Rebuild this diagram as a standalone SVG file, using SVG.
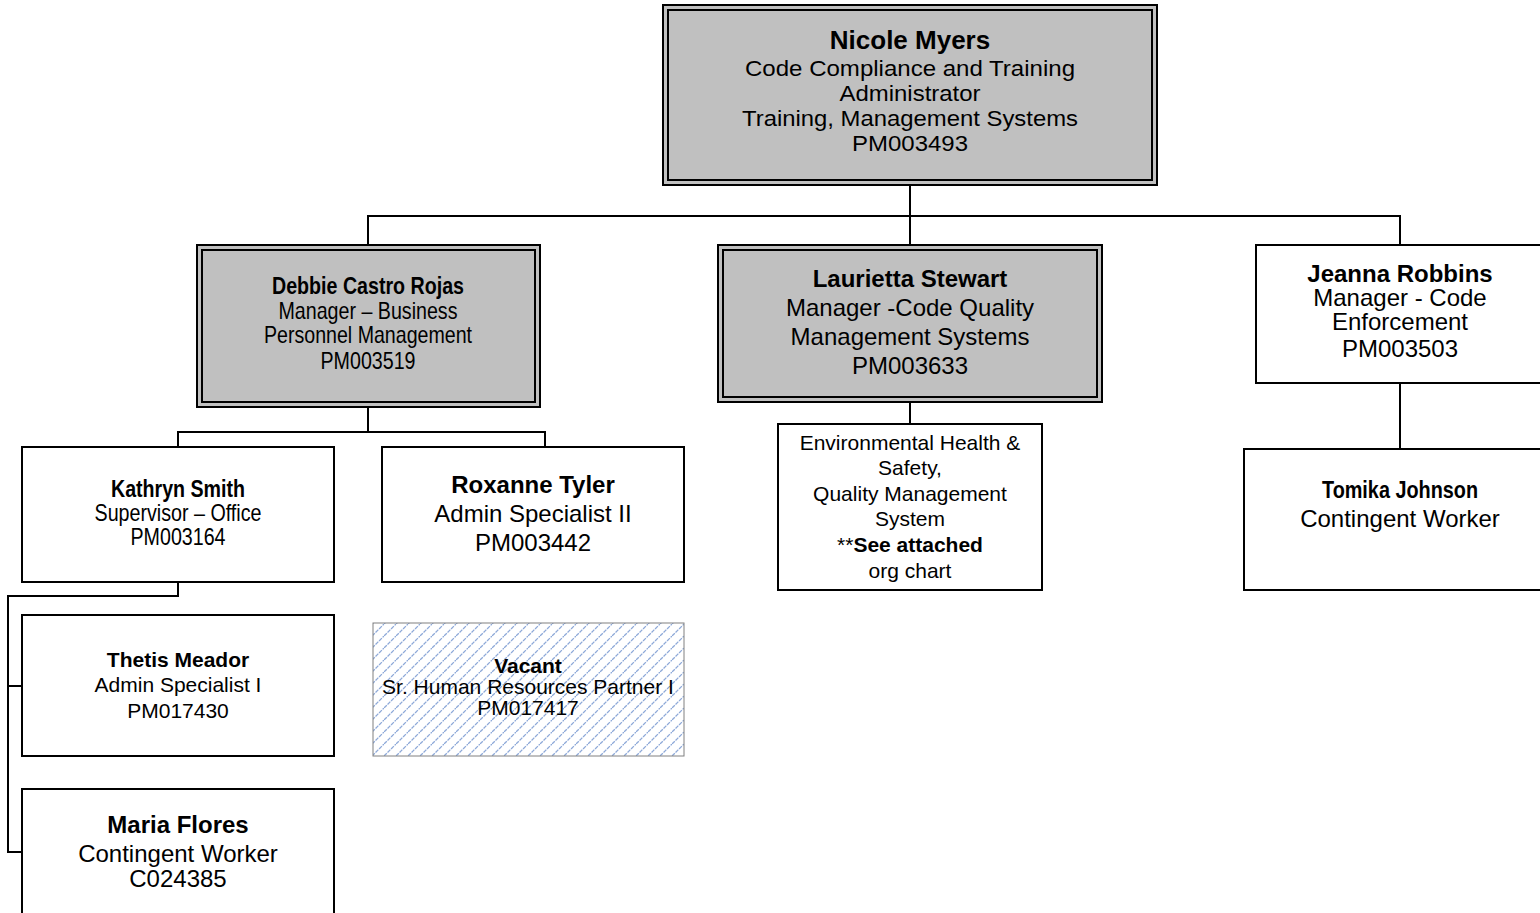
<svg xmlns="http://www.w3.org/2000/svg" width="1540" height="913" viewBox="0 0 1540 913">
<style>
text{font-family:"Liberation Sans",Arial,sans-serif;fill:#000;text-anchor:middle;}
.n{font-family:"Liberation Sans Narrow","Liberation Sans",sans-serif;}
.b{font-weight:bold;}
.s24{font-size:24px;}
.s22{font-size:22px;}
.s26{font-size:26px;}
.s21{font-size:21px;}
.box{fill:#fff;stroke:#000;stroke-width:2;}
.gout{fill:#c0c0c0;stroke:#000;stroke-width:2;}
.gin{fill:none;stroke:#000;stroke-width:2;}
.con{fill:none;stroke:#000;stroke-width:2;}
</style>
<defs>
<pattern id="hatch" patternUnits="userSpaceOnUse" width="12" height="12">
<path d="M-3,3 L3,-3 M0,12 L12,0 M9,15 L15,9" stroke="#8ea9d8" stroke-width="1.3" stroke-dasharray="4,1"/>
</pattern>
</defs>
<g id="connectors">
<path class="con" d="M910,185 V245"/>
<path class="con" d="M368,245 V216 H1400 V245"/>
<path class="con" d="M368,407 V432 M178,447 V432 H545 V447"/>
<path class="con" d="M910,402 V424"/>
<path class="con" d="M1400,383 V449"/>
<path class="con" d="M178,582 V596 H8 V852 H22 M8,686 H22"/>
</g>
<g id="nicole">
<rect class="gout" x="663" y="5" width="494" height="180"/>
<rect class="gin" x="668" y="10" width="484" height="170"/>
<text class="s26 b" x="910" y="49">Nicole Myers</text>
<text class="s22" x="910" y="76" textLength="330" lengthAdjust="spacingAndGlyphs">Code Compliance and Training</text>
<text class="s22" x="910" y="101" textLength="141" lengthAdjust="spacingAndGlyphs">Administrator</text>
<text class="s22" x="910" y="126" textLength="336" lengthAdjust="spacingAndGlyphs">Training, Management Systems</text>
<text class="s22" x="910" y="151" textLength="116" lengthAdjust="spacingAndGlyphs">PM003493</text>
</g>
<g id="debbie">
<rect class="gout" x="197" y="245" width="343" height="162"/>
<rect class="gin" x="202" y="250" width="333" height="152"/>
<text class="s24 b n" x="368" y="294" textLength="192" lengthAdjust="spacingAndGlyphs">Debbie Castro Rojas</text>
<text class="s24 n" x="368" y="319" textLength="179" lengthAdjust="spacingAndGlyphs">Manager – Business</text>
<text class="s24 n" x="368" y="343" textLength="208" lengthAdjust="spacingAndGlyphs">Personnel Management</text>
<text class="s24 n" x="368" y="369" textLength="95" lengthAdjust="spacingAndGlyphs">PM003519</text>
</g>
<g id="laurietta">
<rect class="gout" x="718" y="245" width="384" height="157"/>
<rect class="gin" x="723" y="250" width="374" height="147"/>
<text class="s24 b" x="910" y="287">Laurietta Stewart</text>
<text class="s24" x="910" y="316">Manager -Code Quality</text>
<text class="s24" x="910" y="345">Management Systems</text>
<text class="s24" x="910" y="374">PM003633</text>
</g>
<g id="jeanna">
<rect class="box" x="1256" y="245" width="300" height="138"/>
<text class="s24 b" x="1400" y="282">Jeanna Robbins</text>
<text class="s24" x="1400" y="306">Manager - Code</text>
<text class="s24" x="1400" y="330">Enforcement</text>
<text class="s24" x="1400" y="357">PM003503</text>
</g>
<g id="tomika">
<rect class="box" x="1244" y="449" width="310" height="141"/>
<text class="s24 b n" x="1400" y="498" textLength="156" lengthAdjust="spacingAndGlyphs">Tomika Johnson</text>
<text class="s24" x="1400" y="527">Contingent Worker</text>
</g>
<g id="ehs">
<rect class="box" x="778" y="424" width="264" height="166"/>
<text class="s21" x="910" y="450">Environmental Health &amp;</text>
<text class="s21" x="910" y="475">Safety,</text>
<text class="s21" x="910" y="501">Quality Management</text>
<text class="s21" x="910" y="526">System</text>
<text class="s21" x="910" y="552">**<tspan class="b">See attached</tspan></text>
<text class="s21" x="910" y="578">org chart</text>
</g>
<g id="kathryn">
<rect class="box" x="22" y="447" width="312" height="135"/>
<text class="s24 b n" x="178" y="497" textLength="134" lengthAdjust="spacingAndGlyphs">Kathryn Smith</text>
<text class="s24 n" x="178" y="521" textLength="167" lengthAdjust="spacingAndGlyphs">Supervisor – Office</text>
<text class="s24 n" x="178" y="545" textLength="95" lengthAdjust="spacingAndGlyphs">PM003164</text>
</g>
<g id="roxanne">
<rect class="box" x="382" y="447" width="302" height="135"/>
<text class="s24 b" x="533" y="493">Roxanne Tyler</text>
<text class="s24" x="533" y="522">Admin Specialist II</text>
<text class="s24" x="533" y="551">PM003442</text>
</g>
<g id="thetis">
<rect class="box" x="22" y="615" width="312" height="141"/>
<text class="s21 b" x="178" y="667">Thetis Meador</text>
<text class="s21" x="178" y="692">Admin Specialist I</text>
<text class="s21" x="178" y="718">PM017430</text>
</g>
<g id="vacant">
<rect x="373" y="623" width="311" height="133" fill="#fff"/>
<rect x="373" y="623" width="311" height="133" fill="url(#hatch)" stroke="#808080" stroke-width="1"/>
<text class="s21 b" x="528" y="673">Vacant</text>
<text class="s21" x="528" y="694">Sr. Human Resources Partner I</text>
<text class="s21" x="528" y="715">PM017417</text>
</g>
<g id="maria">
<rect class="box" x="22" y="789" width="312" height="140"/>
<text class="s24 b" x="178" y="833">Maria Flores</text>
<text class="s24" x="178" y="862">Contingent Worker</text>
<text class="s24" x="178" y="887">C024385</text>
</g>
</svg>
